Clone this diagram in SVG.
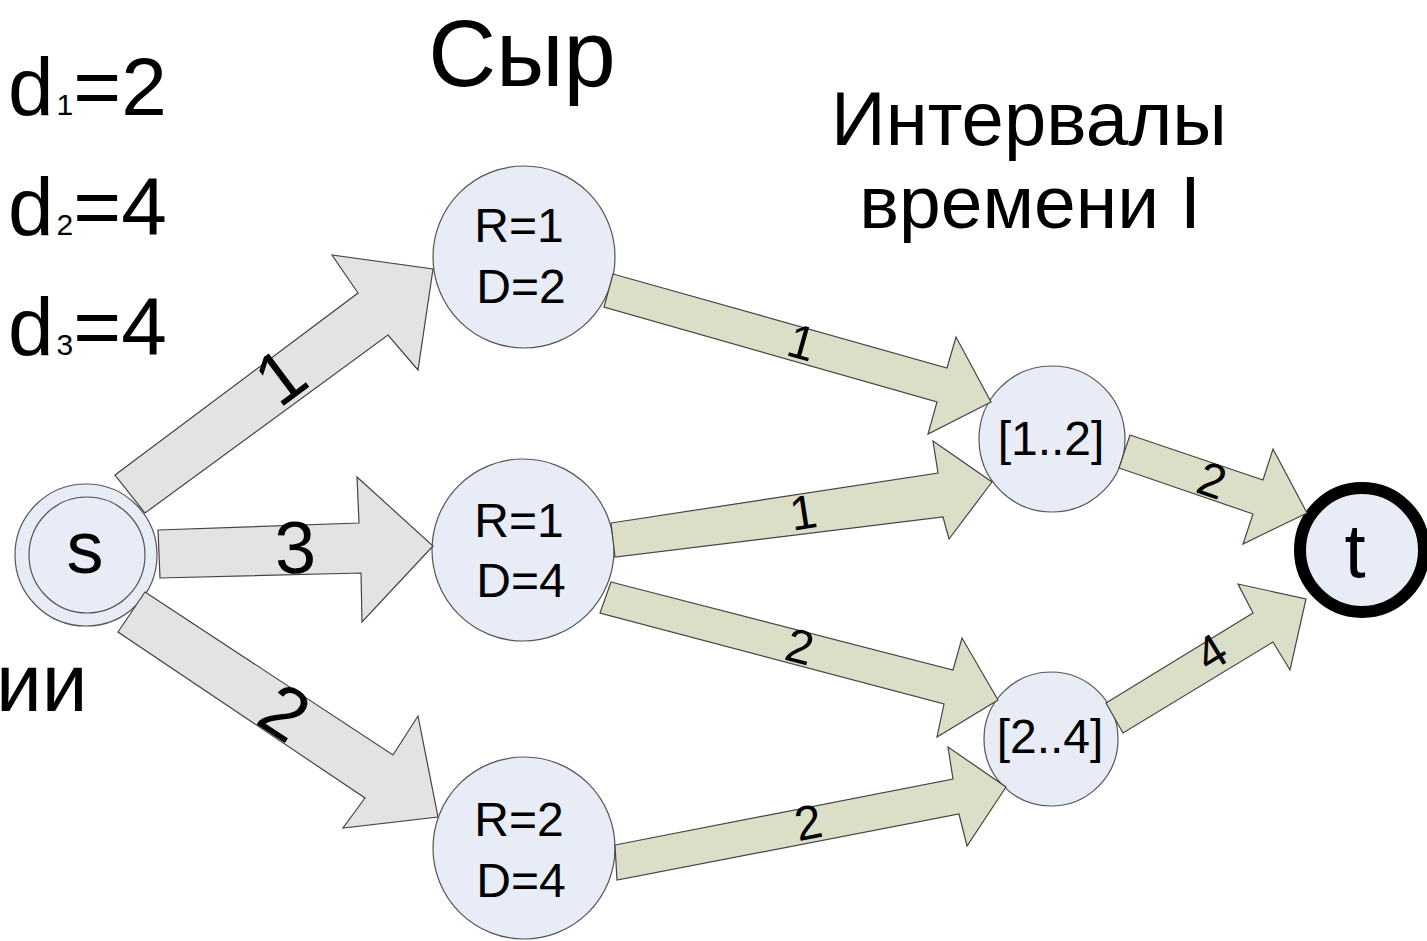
<svg xmlns="http://www.w3.org/2000/svg" width="1427" height="941" viewBox="0 0 1427 941">
<style>
text{font-family:"Liberation Sans",Arial,sans-serif;fill:#000}
.node{fill:#e7ecf6;stroke:#555;stroke-width:1.2}
.garr{fill:#e3e3e3;stroke:#444;stroke-width:1.2;stroke-linejoin:miter}
.oarr{fill:#dcdfc8;stroke:#444;stroke-width:1.2;stroke-linejoin:miter}
.nt{font-size:48px;text-anchor:middle}
.big{font-size:82px}
.gl{font-size:74px;text-anchor:middle}
.ol{font-size:48px;text-anchor:middle}
</style>
<rect width="1427" height="941" fill="#fff"/>
<g id="labels">
<text class="big" x="8" y="115">d<tspan font-size="30" dx="3">1</tspan>=2</text>
<text class="big" x="8" y="235">d<tspan font-size="30" dx="3">2</tspan>=4</text>
<text class="big" x="8" y="355">d<tspan font-size="30" dx="3">3</tspan>=4</text>
<text x="522" y="86" font-size="94" text-anchor="middle">Сыр</text>
<text x="1029" y="145" font-size="76" text-anchor="middle">Интервалы</text>
<text x="1030" y="228" font-size="75" text-anchor="middle">времени I</text>
<text x="-4" y="711" font-size="82">ии</text>
</g>
<g id="node-s">
<circle class="node" cx="86" cy="555" r="71"/>
<circle class="node" cx="87" cy="555" r="58"/>
<text x="85" y="573" font-size="74" text-anchor="middle">s</text>
</g>
<g id="node-r1d2">
<circle class="node" cx="524" cy="257" r="91"/>
<text class="nt" x="519" y="242">R=1</text>
<text class="nt" x="521" y="303">D=2</text>
</g>
<g id="node-r1d4">
<circle class="node" cx="523" cy="550" r="91"/>
<text class="nt" x="519" y="537">R=1</text>
<text class="nt" x="521" y="597">D=4</text>
</g>
<g id="node-r2d4">
<circle class="node" cx="524" cy="848" r="91"/>
<text class="nt" x="519" y="836">R=2</text>
<text class="nt" x="521" y="897">D=4</text>
</g>
<g id="node-i12">
<circle class="node" cx="1052" cy="439" r="73"/>
<text class="nt" x="1051" y="455">[1..2]</text>
</g>
<g id="node-i24">
<circle class="node" cx="1051" cy="739" r="67"/>
<text class="nt" x="1050" y="753">[2..4]</text>
</g>
<g id="node-t">
<circle cx="1362" cy="550" r="62" fill="#e7ecf6" stroke="#000" stroke-width="12"/>
<text x="1355" y="577" font-size="76" text-anchor="middle">t</text>
</g>
<g id="connectors">
<polygon class="garr" points="115,475 358,293 332,255 433,269 418,370 388,335 145,513"/>
<polygon class="garr" points="158,530 359,523 357,477 433,546 362,622 361,573 160,578"/>
<polygon class="garr" points="145,592 393,755 418,716 438,817 343,828 365,798 118,632"/>
<polygon class="oarr" points="613,274 947,368 956,337 991,402 928,434 937,402 604,307"/>
<polygon class="oarr" points="611,523 938,473 933,441 992,482 949,539 943,517 615,557"/>
<polygon class="oarr" points="611,582 953,670 962,638 998,700 937,737 944,704 600,613"/>
<polygon class="oarr" points="615,845 953,779 948,747 1006,787 967,846 959,814 617,880"/>
<polygon class="oarr" points="1130,435 1263,480 1273,449 1307,513 1243,544 1253,514 1119,468"/>
<polygon class="oarr" points="1106,703 1253,613 1238,584 1306,599 1290,670 1273,642 1123,733"/>
<g transform="translate(280,376) rotate(-37)"><text class="gl" y="26">1</text></g>
<g transform="translate(295,546) rotate(-2)"><text class="gl" y="27">3</text></g>
<g transform="translate(285,712) rotate(33)"><text class="gl" y="26">2</text></g>
<g transform="translate(802,342) rotate(15.7)"><text class="ol" y="17">1</text></g>
<g transform="translate(803,512) rotate(-8.7)"><text class="ol" y="17">1</text></g>
<g transform="translate(800,646) rotate(14.4)"><text class="ol" y="17">2</text></g>
<g transform="translate(808,822) rotate(-11)"><text class="ol" y="17">2</text></g>
<g transform="translate(1212,480) rotate(18.7)"><text class="ol" y="17">2</text></g>
<g transform="translate(1211,652) rotate(-31.5)"><text class="ol" y="17">4</text></g>
</g>
</svg>
